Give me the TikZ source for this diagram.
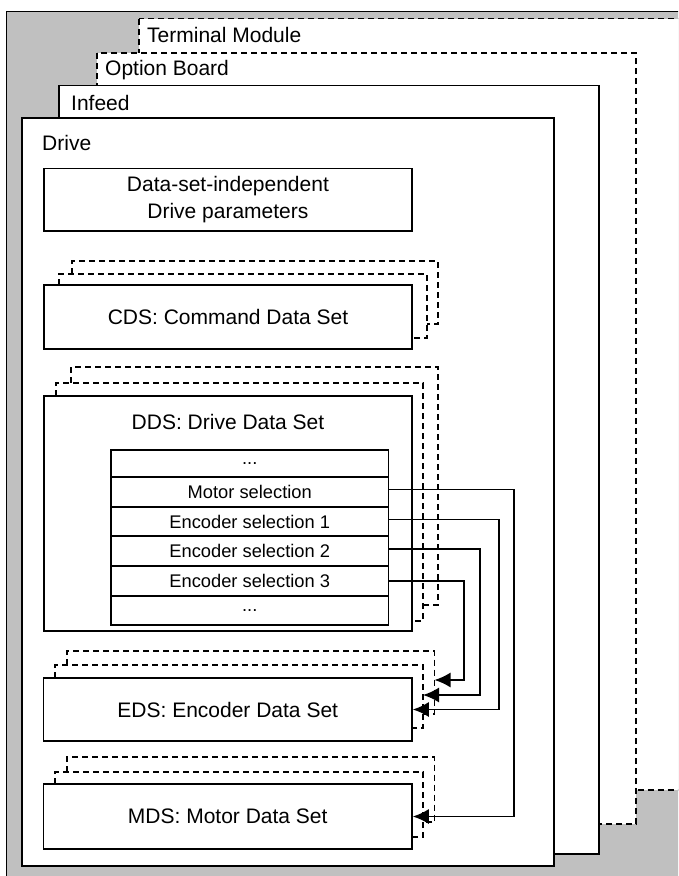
\documentclass[tikz,border=0pt]{standalone}
\usepackage{fontspec}
\setmainfont{Liberation Sans}
\usetikzlibrary{arrows.meta}
\definecolor{bggray}{RGB}{192,192,192}
\begin{document}
\begin{tikzpicture}[x=1pt,y=-1pt,
  frame/.style={draw=black,fill=white,line width=1.6pt},
  dframe/.style={draw=black,fill=white,line width=1.5pt,dash pattern=on 6pt off 4pt},
  box/.style={draw=black,fill=white,line width=1.6pt,inner sep=0pt,align=center,
    font=\fontsize{21}{26.7}\selectfont},
  layer/.style={draw=black,line width=1.5pt,dash pattern=on 6pt off 4pt},
  rowbox/.style={draw=black,line width=1.6pt,inner sep=0pt,minimum width=277.5pt,
    font=\fontsize{18.3}{22}\selectfont},
  lbl/.style={inner sep=0pt,anchor=west,font=\fontsize{21}{26}\selectfont},
  clbl/.style={inner sep=0pt,font=\fontsize{21}{26}\selectfont},
  conn/.style={draw=black,line width=1.6pt,-{Latex[length=16pt,width=15pt]}}]
\useasboundingbox (0,0) rectangle (678,876);
\clip (0,0) rectangle (678,876);
% background
\fill[bggray] (6.5,11.5) rectangle (700,900);
\draw[line width=1.6pt] (6.5,900) -- (6.5,11.5) -- (700,11.5);
% module frames
\path[dframe] (139,18.5) rectangle (700,790);
\path[dframe] (97,53) rectangle (636,824);
\path[frame] (59,85.5) rectangle (598.7,854);
\path[frame] (21.7,118) rectangle (553.7,865.7);
\node[lbl] (tm) at (147,35) {Terminal Module};
\node[lbl] (ob) at (105,70) {Option Board};
\node[lbl] (inf) at (71,103) {Infeed};
\node[lbl] (drv) at (42,143) {Drive};
% data-set-independent
\node[box,minimum width=367.7pt,minimum height=62.7pt] (dsi) at (227.9,199.7)
  {Data-set-independent\\Drive parameters};
% CDS
\draw[layer] (72,274) -- (72,261) -- (438,261) -- (438,324) -- (427,324);
\draw[layer] (59,285) -- (59,274) -- (427,274) -- (427,338) -- (412,338);
\node[box,minimum width=368pt,minimum height=64pt] (cds) at (228,317) {CDS: Command Data Set};
% DDS
\draw[layer] (71,383) -- (71,367) -- (438,367) -- (438,605) -- (423,605);
\draw[layer] (56,396) -- (56,383) -- (423,383) -- (423,621) -- (412,621);
\node[box,minimum width=368pt,minimum height=235pt] (dds) at (228,513.5) {};
\node[clbl] (ddst) at (228,422) {DDS: Drive Data Set};
\node[rowbox,minimum height=27pt] (r0) at (249.75,463.5) {...};
\node[rowbox,minimum height=30pt] (motor) at (249.75,492) {Motor selection};
\node[rowbox,minimum height=29pt] (enc1) at (249.75,521.5) {Encoder selection 1};
\node[rowbox,minimum height=30pt] (enc2) at (249.75,551) {Encoder selection 2};
\node[rowbox,minimum height=30pt] (enc3) at (249.75,581) {Encoder selection 3};
\node[rowbox,minimum height=29pt] (r5) at (249.75,610.5) {...};
% EDS
\draw[layer] (67,665) -- (67,651) -- (434.5,651) -- (434.5,714) -- (423,714);
\draw[layer] (55,678) -- (55,665) -- (423,665) -- (423,728) -- (412,728);
\node[box,minimum width=368.5pt,minimum height=63pt] (eds) at (227.75,709.5) {EDS: Encoder Data Set};
% MDS
\draw[layer] (67,772) -- (67,757) -- (434.5,757) -- (434.5,822) -- (423,822);
\draw[layer] (55,784) -- (55,772) -- (423,772) -- (423,837) -- (412,837);
\node[box,minimum width=368.5pt,minimum height=65pt] (mds) at (227.75,816.5) {MDS: Motor Data Set};
% connector end points on the stacked copies of EDS
\coordinate (eds2) at (423,695);
\coordinate (eds3) at (434.5,680);
% connectors
\draw[conn] ([yshift=2.5pt]motor.east) -- ++(124.5,0) |- (mds.east);
\draw[conn] ([yshift=2pt]enc1.east) -- ++(109.5,0) |- (eds.east);
\draw[conn] ([yshift=2pt]enc2.east) -- ++(90.5,0) |- (eds2);
\draw[conn] (enc3.east) -- ++(74.5,0) |- (eds3);
\end{tikzpicture}
\end{document}
